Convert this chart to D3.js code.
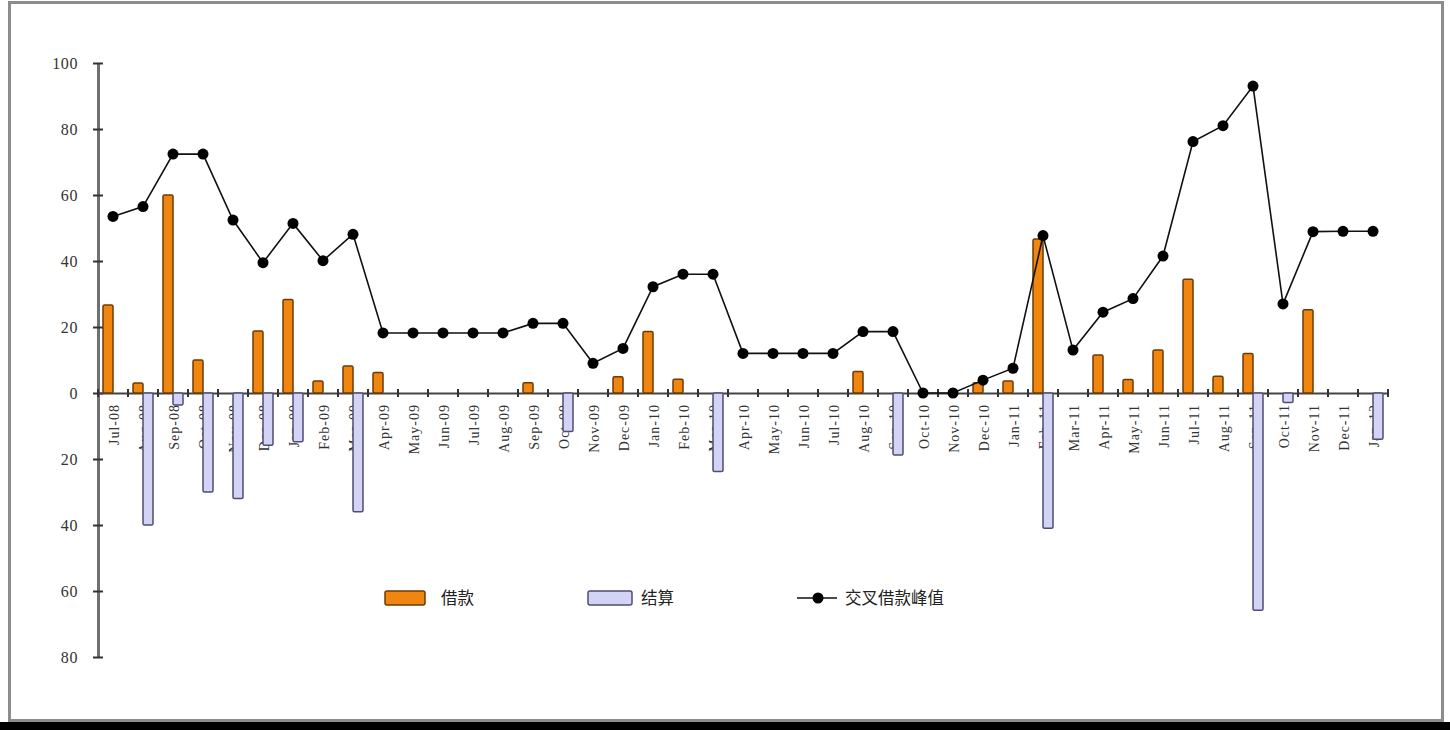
<!DOCTYPE html>
<html>
<head>
<meta charset="utf-8">
<script src="https://cdn.jsdelivr.net/npm/d3@7"></script>
<style>
  body { margin: 0; background: #fff; }
  .tick text { font-family: "Liberation Serif", "DejaVu Serif", serif; fill: #333; }
  .legend text { font-family: "Noto Sans CJK SC", sans-serif; font-size: 16.5px; fill: #222; }
</style>
</head>
<body>
<svg id="chart" width="1450" height="730"></svg>
<script>
// month labels along the x axis
var months = ["Jul-08","Aug-08","Sep-08","Oct-08","Nov-08","Dec-08","Jan-09","Feb-09","Mar-09","Apr-09",
  "May-09","Jun-09","Jul-09","Aug-09","Sep-09","Oct-09","Nov-09","Dec-09","Jan-10","Feb-10",
  "Mar-10","Apr-10","May-10","Jun-10","Jul-10","Aug-10","Sep-10","Oct-10","Nov-10","Dec-10",
  "Jan-11","Feb-11","Mar-11","Apr-11","May-11","Jun-11","Jul-11","Aug-11","Sep-11","Oct-11",
  "Nov-11","Dec-11","Jan-12"];

// 借款 (orange bars)
var loans = [26.7, 3, 60, 10, 0, 18.8, 28.3, 3.6, 8.2, 6.2,
  0, 0, 0, 0, 3.1, 0, 0, 4.9, 18.6, 4.2,
  0, 0, 0, 0, 0, 6.5, 0, 0, 0, 3.1,
  3.6, 46.7, 0, 11.5, 4.1, 13, 34.5, 5.1, 12, 0,
  25.2, 0, 0];

// 结算 (lavender bars, negative)
var settles = [0, -40, -3.6, -30, -32, -15.8, -14.8, 0, -36, 0,
  0, 0, 0, 0, 0, -11.7, 0, 0, 0, 0,
  -23.8, 0, 0, 0, 0, 0, -18.8, 0, 0, 0,
  0, -41, 0, 0, 0, 0, 0, 0, -65.8, -2.9,
  0, 0, -14];

// 交叉借款峰值 (line)
var peaks = [53.5, 56.5, 72.4, 72.4, 52.4, 39.5, 51.4, 40.1, 48.1, 18.2,
  18.2, 18.2, 18.2, 18.2, 21.1, 21.1, 9, 13.5, 32.2, 36,
  36, 12, 12, 12, 12, 18.6, 18.6, 0, 0, 3.9,
  7.5, 47.7, 13, 24.5, 28.6, 41.5, 76.2, 81, 93, 27,
  48.9, 49, 49];

var yTicks = [-80, -60, -40, -20, 0, 20, 40, 60, 80, 100];

var svg = d3.select("#chart");

// frame and dark strip at the bottom
svg.append("rect").attr("x", 0).attr("y", 722).attr("width", 1450).attr("height", 8).attr("fill", "#000");
svg.append("rect")
  .attr("x", 9.5).attr("y", 2.5).attr("width", 1433).attr("height", 718)
  .attr("fill", "#fff").attr("stroke", "#8c8c8c").attr("stroke-width", 3);

var x = d3.scaleBand().domain(months).range([98, 1388]).padding(0);
var y = d3.scaleLinear().domain([-80, 100]).range([657, 63]);

var data = months.map(function(m, i) {
  return { month: m, loan: loans[i], settle: settles[i], peak: peaks[i] };
});

var cx = function(d) { return x(d.month) + x.bandwidth() / 2; };
var barW = 10;

// y axis with crossing ticks
var yAxis = svg.append("g")
  .attr("transform", "translate(98,0)")
  .call(d3.axisLeft(y).tickValues(yTicks).tickSize(0).tickPadding(20)
    .tickFormat(function(d) { return Math.abs(d); }));
yAxis.select(".domain").attr("stroke", "#707070").attr("stroke-width", 3);
yAxis.selectAll(".tick text").attr("font-size", "16px").attr("letter-spacing", "0.6px");
yAxis.selectAll(".tick").append("line")
  .attr("x1", -5).attr("x2", 5).attr("stroke", "#333").attr("stroke-width", 2);

// month labels (drawn under the bars)
svg.append("g").selectAll("text")
  .data(data)
  .enter().append("text")
  .attr("transform", function(d) { return "translate(" + (cx(d) + 1) + "," + (y(0) + 11) + ") rotate(-90)"; })
  .attr("dy", "0.35em")
  .attr("text-anchor", "end")
  .attr("font-family", "Liberation Serif, DejaVu Serif, serif")
  .attr("font-size", "14px")
  .attr("letter-spacing", "1px")
  .attr("fill", "#333")
  .text(function(d) { return d.month; });

// x axis line and boundary ticks
var xAxis = svg.append("g")
  .attr("transform", "translate(0," + y(0) + ")")
  .call(d3.axisBottom(x).tickSize(0).tickFormat(""));
xAxis.select(".domain").attr("stroke", "#444").attr("stroke-width", 1.8);
xAxis.selectAll(".tick").remove();
xAxis.selectAll(".bnd")
  .data(months.concat(["end"]))
  .enter().append("line")
  .attr("class", "bnd")
  .attr("x1", function(d, i) { return 98 + i * x.bandwidth(); })
  .attr("x2", function(d, i) { return 98 + i * x.bandwidth(); })
  .attr("y1", -4).attr("y2", 4)
  .attr("stroke", "#333").attr("stroke-width", 2);

// 借款 bars
svg.append("g").selectAll("rect")
  .data(data.filter(function(d) { return d.loan !== 0; }))
  .enter().append("rect")
  .attr("x", function(d) { return cx(d) - barW; })
  .attr("y", function(d) { return y(d.loan); })
  .attr("width", barW)
  .attr("height", function(d) { return y(0) - y(d.loan); })
  .attr("rx", 1.5)
  .attr("fill", "#f0850f")
  .attr("stroke", "#6b3b05")
  .attr("stroke-width", 1.5);

// 结算 bars
svg.append("g").selectAll("rect")
  .data(data.filter(function(d) { return d.settle !== 0; }))
  .enter().append("rect")
  .attr("x", function(d) { return cx(d); })
  .attr("y", y(0))
  .attr("width", barW)
  .attr("height", function(d) { return y(d.settle) - y(0); })
  .attr("rx", 1.5)
  .attr("fill", "#d3d3f5")
  .attr("stroke", "#4e4e72")
  .attr("stroke-width", 1.5);

// 交叉借款峰值 line
var line = d3.line()
  .x(cx)
  .y(function(d) { return y(d.peak); });

svg.append("path")
  .datum(data)
  .attr("d", line)
  .attr("fill", "none")
  .attr("stroke", "#111")
  .attr("stroke-width", 1.6);

svg.append("g").selectAll("circle")
  .data(data)
  .enter().append("circle")
  .attr("cx", cx)
  .attr("cy", function(d) { return y(d.peak); })
  .attr("r", 5.5)
  .attr("fill", "#000");

// legend
var lg = svg.append("g").attr("class", "legend");
lg.append("rect").attr("x", 385).attr("y", 591).attr("width", 40).attr("height", 14).attr("rx", 2)
  .attr("fill", "#f0850f").attr("stroke", "#6b3b05").attr("stroke-width", 1.5);
lg.append("text").attr("x", 441).attr("y", 604).text("借款");
lg.append("rect").attr("x", 588).attr("y", 591).attr("width", 44).attr("height", 14).attr("rx", 2)
  .attr("fill", "#d3d3f5").attr("stroke", "#4e4e72").attr("stroke-width", 1.5);
lg.append("text").attr("x", 641).attr("y", 604).text("结算");
lg.append("line").attr("x1", 797).attr("x2", 837).attr("y1", 598).attr("y2", 598)
  .attr("stroke", "#111").attr("stroke-width", 1.6);
lg.append("circle").attr("cx", 818).attr("cy", 598).attr("r", 5.5).attr("fill", "#000");
lg.append("text").attr("x", 845).attr("y", 604).text("交叉借款峰值");
</script>
</body>
</html>
